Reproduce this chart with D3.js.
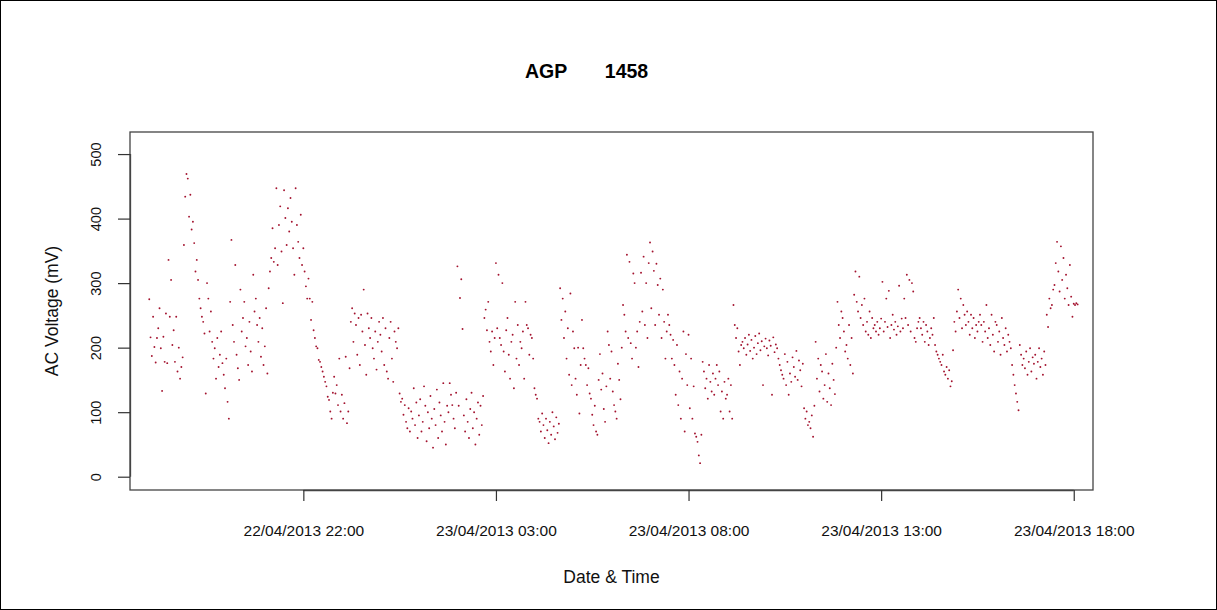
<!DOCTYPE html>
<html>
<head>
<meta charset="utf-8">
<script src="https://cdn.jsdelivr.net/npm/d3@7"></script>
<style>
  html, body { margin: 0; padding: 0; background: #fff; }
  svg { display: block; font-family: "Liberation Sans", Arial, sans-serif; }
</style>
</head>
<body>
<svg id="chart" width="1217" height="610"></svg>
<script>
// AC voltage readings (mV), one every 2 minutes from 22/04/2013 18:00
const startTime = Date.UTC(2013, 3, 22, 18, 0);
const stepMinutes = 2;
const voltage = [
  275,216,187,248,201,177,215,230,261,199,133,217,178,253,176,336,248,305,204,227,178,248,163,200,152,170,185,359,434,469,
  462,403,437,383,395,362,318,336,305,276,261,248,240,222,129,300,276,225,256,209,183,199,152,215,170,189,225,176,158,137,
  183,116,90,271,367,235,209,328,189,168,150,290,225,246,271,202,215,173,240,194,163,313,256,276,235,209,246,186,230,173,
  202,261,160,292,318,339,385,333,354,447,328,390,419,349,269,444,401,359,416,380,432,395,354,313,447,390,364,339,406,328,
  354,318,295,276,307,276,243,271,227,215,202,199,181,178,170,163,155,147,140,124,119,101,90,130,155,129,142,111,183,101,
  127,90,114,186,83,101,168,240,261,209,253,235,189,246,173,251,225,290,204,158,253,230,215,246,199,183,225,166,209,240,
  220,194,246,173,230,163,152,215,240,183,147,225,209,199,230,129,116,121,96,111,85,75,106,70,101,90,137,80,115,60,
  95,120,70,85,140,110,55,100,75,125,90,45,105,80,135,60,115,95,70,145,85,50,110,100,145,127,111,90,75,130,
  326,110,277,306,229,95,70,120,85,60,105,130,75,100,50,90,115,65,110,80,125,246,259,227,271,209,194,225,173,215,
  331,230,313,215,204,300,194,163,227,246,189,152,209,220,137,271,183,235,173,209,199,225,152,271,235,230,189,220,215,183,
  137,127,121,90,85,70,98,80,60,90,72,52,85,65,100,78,58,92,68,82,292,243,276,215,256,183,230,158,284,142,
  225,199,152,127,200,98,173,243,199,183,173,142,168,129,121,96,80,110,70,65,150,190,135,160,105,85,140,225,204,152,
  194,132,111,101,90,175,150,120,200,266,251,225,344,215,333,207,183,315,300,200,225,170,240,316,256,341,235,300,215,331,
  363,261,349,319,235,330,297,251,307,215,290,240,183,225,251,235,220,183,212,173,127,204,111,163,90,152,225,70,190,142,
  220,106,183,90,140,67,62,54,33,21,65,178,163,137,152,121,173,147,132,160,127,152,173,142,163,101,132,90,147,121,
  127,152,101,142,90,266,235,215,230,194,173,204,209,199,215,189,205,220,195,212,183,200,218,190,207,222,196,210,142,202,
  214,199,188,211,203,127,216,193,205,199,183,173,165,158,152,190,142,178,127,160,147,185,170,155,195,150,180,165,140,175,
  106,90,101,80,85,75,95,62,110,209,152,183,132,173,163,121,142,190,116,160,137,111,175,150,128,200,271,235,215,256,
  246,225,194,204,183,235,173,215,160,282,318,271,256,310,246,266,235,276,225,240,220,256,215,246,230,235,225,240,220,230,
  245,302,225,240,276,232,288,215,235,251,228,240,220,233,296,225,245,230,276,246,313,235,305,225,300,287,215,209,230,240,
  246,230,220,240,209,235,225,204,215,230,220,246,204,194,189,183,178,173,189,163,158,170,152,165,140,148,196,240,225,256,
  290,246,276,230,266,251,235,256,240,220,251,230,246,215,235,225,240,251,235,209,240,225,266,215,230,204,251,220,194,240,
  235,209,225,189,246,215,204,230,194,220,209,199,173,158,142,129,116,103,204,189,173,183,168,194,158,178,199,163,185,175,
  189,152,178,199,170,183,158,194,173,251,232,276,261,266,290,297,331,364,318,287,357,305,339,276,313,292,266,328,279,248,
  268,266,269,267
];

// Axis ticks
const timeTicks = [
  Date.UTC(2013, 3, 22, 22, 0),
  Date.UTC(2013, 3, 23, 3, 0),
  Date.UTC(2013, 3, 23, 8, 0),
  Date.UTC(2013, 3, 23, 13, 0),
  Date.UTC(2013, 3, 23, 18, 0)
];
const voltageTicks = [0, 100, 200, 300, 400, 500];

const chartTitle = "AGP       1458";
const xTitle = "Date & Time";
const yTitle = "AC Voltage (mV)";

const points = voltage.map((v, i) => ({
  t: new Date(startTime + i * stepMinutes * 60000),
  v: v
}));

const svg = d3.select("#chart");
const W = 1217, H = 610;
const plot = { left: 130, right: 1093, top: 132, bottom: 490 };

// Figure frame
svg.append("rect")
  .attr("x", 0.5).attr("y", 0.5)
  .attr("width", W - 1).attr("height", H - 1)
  .attr("fill", "#fff").attr("stroke", "#000").attr("stroke-width", 1);

const x = d3.scaleUtc()
  .domain([new Date(Date.UTC(2013, 3, 22, 17, 30)), new Date(Date.UTC(2013, 3, 23, 18, 30))])
  .range([plot.left, plot.right]);

const y = d3.scaleLinear()
  .domain([-20.6, 534.2])
  .range([plot.bottom, plot.top]);

const fmt = d3.utcFormat("%d/%m/%Y %H:%M");

// Points
svg.append("g")
  .selectAll("circle")
  .data(points)
  .join("circle")
  .attr("cx", d => x(d.t))
  .attr("cy", d => y(d.v))
  .attr("r", 0.95)
  .attr("fill", "#a3122e");

// Plot box
svg.append("rect")
  .attr("x", plot.left).attr("y", plot.top)
  .attr("width", plot.right - plot.left)
  .attr("height", plot.bottom - plot.top)
  .attr("fill", "none").attr("stroke", "#444").attr("stroke-width", 1.3);

// X axis
const xAxis = d3.axisBottom(x)
  .tickValues(timeTicks.map(t => new Date(t)))
  .tickFormat(fmt)
  .tickSize(11)
  .tickPadding(24);
const gx = svg.append("g")
  .attr("transform", `translate(0,${plot.bottom})`)
  .call(xAxis);
gx.select(".domain")
  .attr("d", `M${x(new Date(timeTicks[0]))},0.5H${x(new Date(timeTicks[timeTicks.length - 1]))}`)
  .attr("stroke", "#444").attr("stroke-width", 1.3);
gx.selectAll(".tick line").attr("stroke", "#333").attr("stroke-width", 1.2);
gx.selectAll(".tick text")
  .attr("fill", "#111")
  .style("font-size", "15.5px")
  .style("font-family", "'Liberation Sans', Arial, sans-serif");

// Y axis
const yAxis = d3.axisLeft(y)
  .tickValues(voltageTicks)
  .tickSize(12)
  .tickPadding(0);
const gy = svg.append("g")
  .attr("transform", `translate(${plot.left},0)`)
  .call(yAxis);
gy.select(".domain")
  .attr("d", `M0.5,${y(voltageTicks[0])}V${y(voltageTicks[voltageTicks.length - 1])}`)
  .attr("stroke", "#444").attr("stroke-width", 1.3);
gy.selectAll(".tick line").attr("stroke", "#333").attr("stroke-width", 1.2);
gy.selectAll(".tick text")
  .attr("x", null).attr("dy", null)
  .attr("transform", "translate(-29,0) rotate(-90)")
  .attr("text-anchor", "middle")
  .attr("fill", "#111")
  .style("font-size", "14.5px")
  .style("font-family", "'Liberation Sans', Arial, sans-serif");

// Title
svg.append("text")
  .attr("x", 525).attr("y", 78)
  .attr("xml:space", "preserve")
  .style("white-space", "pre")
  .style("font-size", "19.5px")
  .style("font-weight", "bold")
  .attr("fill", "#000")
  .text(chartTitle);

// Axis titles
svg.append("text")
  .attr("x", (plot.left + plot.right) / 2).attr("y", 583)
  .attr("text-anchor", "middle")
  .style("font-size", "17.5px")
  .attr("fill", "#111")
  .text(xTitle);

svg.append("text")
  .attr("transform", `translate(58,${(plot.top + plot.bottom) / 2}) rotate(-90)`)
  .attr("text-anchor", "middle")
  .style("font-size", "17.5px")
  .attr("fill", "#111")
  .text(yTitle);
</script>
</body>
</html>
